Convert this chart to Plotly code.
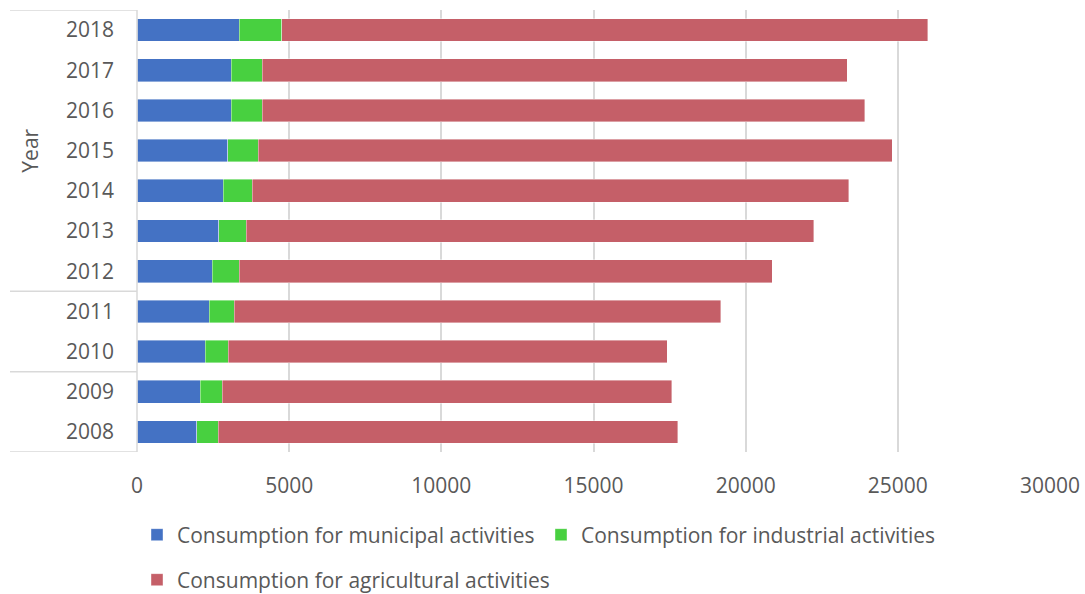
import plotly.graph_objects as go

years = ["2008", "2009", "2010", "2011", "2012", "2013", "2014", "2015", "2016", "2017", "2018"]
municipal = [1955, 2086, 2250, 2382, 2480, 2688, 2831, 2984, 3094, 3104, 3357]
industrial = [712, 723, 756, 821, 877, 899, 953, 997, 1018, 1019, 1400]
agricultural = [15099, 14760, 14421, 15975, 17509, 18658, 19611, 20837, 19808, 19217, 21233]
x_ticks = [0, 5000, 10000, 15000, 20000, 25000, 30000]

FONT = "Open Sans"
FS = 21
TXT = "#595959"
GRID = "#D9D9D9"

fig = go.Figure()
series = [
    ("Consumption for municipal activities", municipal, "#4472C4", "legend"),
    ("Consumption for industrial activities", industrial, "#48D040", "legend"),
    ("Consumption for agricultural activities", agricultural, "#C55F68", "legend2"),
]
for name, vals, col, lg in series:
    fig.add_trace(go.Bar(
        y=years, x=vals, name=name, orientation="h",
        marker=dict(color=col, line=dict(color="rgba(255,255,255,0.5)", width=0.8)),
        legend=lg,
    ))

W, H = 1085, 594
ml, mr, mt, mb = 137, 35, 10, 142
pw = W - ml - mr

def px(xp):
    return (xp - ml) / pw

def cx(xp):
    return xp / W

def cy(yp):
    return 1 - yp / H

shapes = []
# multi-level category separators
for yv in [10.5, 3.5, 1.5, -0.5]:
    shapes.append(dict(type="line", xref="paper", yref="y", x0=px(10), x1=0, y0=yv, y1=yv,
                       line=dict(color=GRID, width=1.5), layer="above"))
shapes.append(dict(type="line", xref="paper", yref="y", x0=0, x1=0, y0=-0.5, y1=10.5,
                   line=dict(color=GRID, width=1.5), layer="above"))

fig.update_layout(
    width=W, height=H,
    margin=dict(l=ml, r=mr, t=mt, b=mb),
    paper_bgcolor="white", plot_bgcolor="white",
    barmode="stack", bargap=0.435,
    font=dict(family=FONT, size=FS, color=TXT),
    xaxis=dict(range=[0, 30000], tickvals=x_ticks, ticktext=[str(v) for v in x_ticks],
               showgrid=True, gridcolor="rgba(160,160,160,0.4)", gridwidth=2,
               zeroline=False, showline=False, ticks="", ticklabelstandoff=19,
               layer="above traces", automargin=False, tickfont=dict(size=FS, color=TXT)),
    yaxis=dict(type="category", categoryorder="array", categoryarray=years,
               range=[-0.5, 10.5], showgrid=False, zeroline=False, showline=False,
               ticks="", ticklabelstandoff=22, automargin=False, tickfont=dict(size=FS, color=TXT)),
    legend=dict(orientation="h", xref="container", yref="container",
                x=cx(137), y=cy(535), xanchor="left", yanchor="middle",
                traceorder="normal", entrywidth=359, entrywidthmode="pixels", itemwidth=30,
                font=dict(size=FS, color=TXT), bgcolor="rgba(0,0,0,0)"),
    legend2=dict(orientation="h", xref="container", yref="container",
                 x=cx(137), y=cy(580), xanchor="left", yanchor="middle",
                 itemwidth=30, font=dict(size=FS, color=TXT), bgcolor="rgba(0,0,0,0)"),
    shapes=shapes,
    annotations=[dict(text="Year", xref="paper", yref="y", x=px(30), y=7, textangle=-90,
                      showarrow=False, font=dict(size=FS, color=TXT),
                      xanchor="center", yanchor="middle")],
)

fig.write_html("out.html", config={"displayModeBar": False},
               post_script="document.body.style.margin='0';document.body.style.overflow='hidden';")
